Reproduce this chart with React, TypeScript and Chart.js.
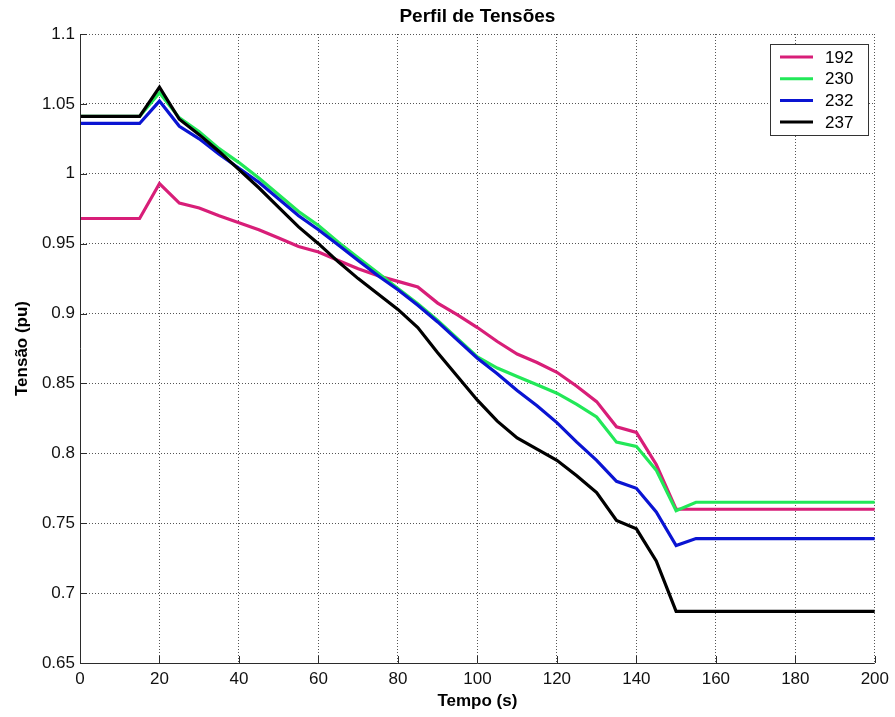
import React, { useEffect, useRef } from "react";
import { Chart, registerables } from "chart.js";

Chart.register(...registerables);

const chartTitle = "Perfil de Tensões";
const xAxisTitle = "Tempo (s)";
const yAxisTitle = "Tensão (pu)";

const times = [0, 15, 20, 25, 30, 35, 40, 45, 50, 55, 60, 65, 70, 75, 80, 85, 90, 95, 100, 105, 110, 115, 120, 125, 130, 135, 140, 145, 150, 155, 200];

const bus192 = [0.968, 0.968, 0.993, 0.979, 0.9755, 0.970, 0.965, 0.960, 0.954, 0.948, 0.944, 0.938, 0.932, 0.927, 0.923, 0.919, 0.9075, 0.899, 0.890, 0.880, 0.871, 0.865, 0.858, 0.848, 0.837, 0.819, 0.815, 0.792, 0.760, 0.760, 0.760];
const bus230 = [1.041, 1.041, 1.058, 1.040, 1.030, 1.018, 1.008, 0.997, 0.985, 0.973, 0.963, 0.951, 0.940, 0.929, 0.918, 0.907, 0.895, 0.882, 0.869, 0.861, 0.855, 0.849, 0.843, 0.835, 0.826, 0.808, 0.805, 0.788, 0.759, 0.765, 0.765];
const bus232 = [1.036, 1.036, 1.052, 1.034, 1.025, 1.014, 1.004, 0.994, 0.982, 0.970, 0.960, 0.949, 0.938, 0.927, 0.917, 0.906, 0.894, 0.881, 0.868, 0.857, 0.845, 0.834, 0.822, 0.808, 0.795, 0.780, 0.775, 0.758, 0.734, 0.739, 0.739];
const bus237 = [1.041, 1.041, 1.062, 1.039, 1.028, 1.016, 1.003, 0.990, 0.976, 0.962, 0.950, 0.937, 0.925, 0.914, 0.903, 0.890, 0.872, 0.855, 0.838, 0.823, 0.811, 0.803, 0.795, 0.784, 0.772, 0.752, 0.746, 0.723, 0.687, 0.687, 0.687];

const seriesLabels = ["192", "230", "232", "237"];
const seriesValues = [bus192, bus230, bus232, bus237];
const seriesColors = ["#d81e78", "#22e858", "#0a14d2", "#000000"];

const xTicks = [0, 20, 40, 60, 80, 100, 120, 140, 160, 180, 200];
const yTicks = [0.65, 0.7, 0.75, 0.8, 0.85, 0.9, 0.95, 1, 1.05, 1.1];

const FONT = 'Arial, "Liberation Sans", Helvetica, sans-serif';

export default function App() {
  const ref = useRef<HTMLCanvasElement | null>(null);

  useEffect(() => {
    const canvas = ref.current;
    if (!canvas) return;

    const overlay = {
      id: "matlabOverlay",
      afterDatasetsDraw(chart: any) {
        const { ctx, chartArea } = chart;
        const xs = chart.scales.x;
        const ys = chart.scales.y;
        ctx.save();
        ctx.strokeStyle = "#2b2b2b";
        ctx.lineWidth = 1;
        ctx.setLineDash([]);
        ctx.beginPath();
        ctx.moveTo(chartArea.left + 0.5, chartArea.top);
        ctx.lineTo(chartArea.left + 0.5, chartArea.bottom + 0.5);
        ctx.lineTo(chartArea.right, chartArea.bottom + 0.5);
        ctx.stroke();
        ctx.beginPath();
        for (const t of xTicks) {
          const px = Math.round(xs.getPixelForValue(t)) + 0.5;
          ctx.moveTo(px, chartArea.bottom);
          ctx.lineTo(px, chartArea.bottom - 7);
        }
        for (const t of yTicks) {
          const py = Math.round(ys.getPixelForValue(t)) + 0.5;
          ctx.moveTo(chartArea.left, py);
          ctx.lineTo(chartArea.left + 7, py);
        }
        ctx.stroke();

        ctx.fillStyle = "#000";
        ctx.font = `bold 19px ${FONT}`;
        ctx.textAlign = "center";
        ctx.textBaseline = "middle";
        ctx.fillText(chartTitle, (chartArea.left + chartArea.right) / 2, 17);

        const bx = 770, by = 44, bw = 98, bh = 91;
        ctx.fillStyle = "#ffffff";
        ctx.fillRect(bx, by, bw, bh);
        ctx.strokeStyle = "#333";
        ctx.lineWidth = 1;
        ctx.strokeRect(bx + 0.5, by + 0.5, bw, bh);
        ctx.font = `17px ${FONT}`;
        ctx.textAlign = "left";
        ctx.textBaseline = "middle";
        seriesLabels.forEach((lab, i) => {
          const cy = 57 + i * 21.7;
          ctx.strokeStyle = seriesColors[i];
          ctx.lineWidth = 3;
          ctx.beginPath();
          ctx.moveTo(780, cy);
          ctx.lineTo(813, cy);
          ctx.stroke();
          ctx.fillStyle = "#000";
          ctx.fillText(lab, 825, cy + 1);
        });
        ctx.restore();
      },
    };

    const chart = new Chart(canvas, {
      type: "line",
      data: {
        datasets: seriesLabels.map((lab, i) => ({
          label: lab,
          data: times.map((t, j) => ({ x: t, y: seriesValues[i][j] })),
          borderColor: seriesColors[i],
          backgroundColor: seriesColors[i],
          borderWidth: 3.2,
          pointRadius: 0,
          tension: 0,
          fill: false,
          order: seriesLabels.length - i,
        })),
      },
      options: {
        responsive: false,
        animation: false,
        layout: { padding: { left: 0, right: 17, top: 34, bottom: 0 } },
        plugins: {
          legend: { display: false },
          title: { display: false },
          tooltip: { enabled: false },
        },
        scales: {
          x: {
            type: "linear",
            min: 0,
            max: 200,
            afterFit: (s: any) => { s.height = 54; },
            afterBuildTicks: (s: any) => { s.ticks = xTicks.map((v) => ({ value: v })); },
            grid: { color: "#555", lineWidth: 1, drawTicks: false },
            border: { display: false, dash: [1, 2] },
            ticks: {
              padding: 6,
              color: "#111",
              font: { family: FONT, size: 17 },
              maxRotation: 0,
              callback: (v: any) => String(v),
            },
            title: {
              display: true,
              text: xAxisTitle,
              color: "#000",
              font: { family: FONT, size: 17, weight: "bold" },
              padding: { top: 0, bottom: 5 },
            },
          },
          y: {
            type: "linear",
            min: 0.65,
            max: 1.1,
            afterFit: (s: any) => { s.width = 80; },
            afterBuildTicks: (s: any) => { s.ticks = yTicks.map((v) => ({ value: v })); },
            grid: { color: "#555", lineWidth: 1, drawTicks: false },
            border: { display: false, dash: [1, 2] },
            ticks: {
              padding: 5,
              color: "#111",
              font: { family: FONT, size: 17 },
              callback: (v: any) => String(Number(Number(v).toFixed(2))),
            },
            title: {
              display: true,
              text: yAxisTitle,
              color: "#000",
              font: { family: FONT, size: 17, weight: "bold" },
              padding: { top: 12, bottom: 0 },
            },
          },
        },
      },
      plugins: [overlay],
    });

    return () => chart.destroy();
  }, []);

  return (
    <div style={{ position: "fixed", left: 0, top: 0, width: 895, height: 717, background: "#fff" }}>
      <canvas ref={ref} width={895} height={717} style={{ display: "block" }} />
    </div>
  );
}
